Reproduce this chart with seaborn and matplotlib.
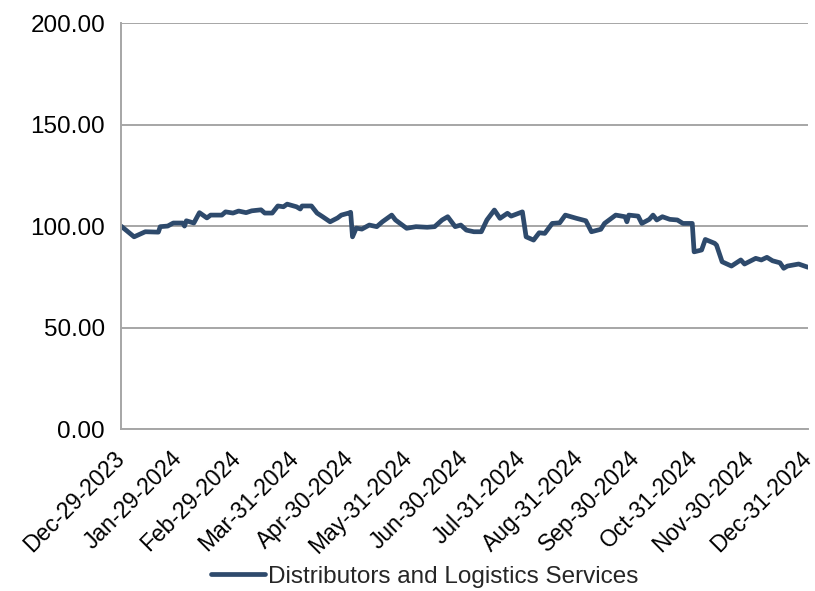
import matplotlib
matplotlib.use("Agg")
import matplotlib.pyplot as plt
import matplotlib.ticker as mticker
import pandas as pd
import seaborn as sns

series_name = "Distributors and Logistics Services"

dates = [
    "2023-12-29", "2024-01-05", "2024-01-11", "2024-01-18", "2024-01-19", "2024-01-23",
    "2024-01-26", "2024-01-31", "2024-02-01", "2024-02-02", "2024-02-06", "2024-02-09",
    "2024-02-13", "2024-02-15", "2024-02-21", "2024-02-23", "2024-02-27", "2024-03-01",
    "2024-03-05", "2024-03-08", "2024-03-13", "2024-03-15", "2024-03-19", "2024-03-22",
    "2024-03-25", "2024-03-27", "2024-04-01", "2024-04-03", "2024-04-04", "2024-04-09",
    "2024-04-12", "2024-04-15", "2024-04-19", "2024-04-23", "2024-04-25", "2024-04-29",
    "2024-04-30", "2024-05-01", "2024-05-03", "2024-05-06", "2024-05-10", "2024-05-14",
    "2024-05-17", "2024-05-22", "2024-05-24", "2024-05-30", "2024-06-04", "2024-06-10",
    "2024-06-14", "2024-06-18", "2024-06-21", "2024-06-25", "2024-06-28", "2024-07-01",
    "2024-07-05", "2024-07-09", "2024-07-12", "2024-07-16", "2024-07-19", "2024-07-23",
    "2024-07-25", "2024-07-31", "2024-08-02", "2024-08-06", "2024-08-09", "2024-08-12",
    "2024-08-16", "2024-08-20", "2024-08-23", "2024-08-29", "2024-09-03", "2024-09-06",
    "2024-09-11", "2024-09-13", "2024-09-19", "2024-09-24", "2024-09-25", "2024-09-26",
    "2024-10-01", "2024-10-03", "2024-10-07", "2024-10-09", "2024-10-11", "2024-10-14",
    "2024-10-18", "2024-10-22", "2024-10-25", "2024-10-30", "2024-10-31", "2024-11-04",
    "2024-11-06", "2024-11-11", "2024-11-12", "2024-11-15", "2024-11-20", "2024-11-25",
    "2024-11-27", "2024-12-03", "2024-12-06", "2024-12-09", "2024-12-12", "2024-12-16",
    "2024-12-18", "2024-12-20", "2024-12-26", "2024-12-31",
]

values = [
    100.0, 94.7, 97.2, 97.0, 99.7, 100.0,
    101.5, 101.5, 100.0, 102.6, 101.5, 106.6,
    104.0, 105.4, 105.4, 107.0, 106.4, 107.4,
    106.6, 107.5, 108.0, 106.4, 106.4, 109.9,
    109.5, 110.8, 109.5, 108.4, 109.9, 109.9,
    106.4, 104.6, 102.1, 104.0, 105.4, 106.4,
    106.8, 94.7, 99.0, 98.5, 100.5, 99.7,
    102.1, 105.4, 103.0, 98.9, 99.7, 99.4,
    99.7, 103.0, 104.6, 99.7, 100.5, 98.0,
    97.2, 97.2, 103.0, 107.9, 103.8, 106.3,
    104.9, 107.0, 94.7, 93.1, 96.7, 96.4,
    101.3, 101.6, 105.4, 103.8, 102.6, 97.2,
    98.4, 101.3, 105.4, 104.6, 102.1, 105.4,
    104.9, 101.3, 103.3, 105.4, 103.0, 104.6,
    103.3, 103.0, 101.3, 101.3, 87.3, 88.2,
    93.4, 91.5, 90.6, 82.4, 80.3, 83.3,
    81.3, 84.1, 83.3, 84.6, 82.9, 81.9,
    79.2, 80.3, 81.3, 79.7,
]

tick_dates = [
    "2023-12-29", "2024-01-29", "2024-02-29", "2024-03-31", "2024-04-30",
    "2024-05-31", "2024-06-30", "2024-07-31", "2024-08-31", "2024-09-30",
    "2024-10-31", "2024-11-30", "2024-12-31",
]
tick_labels = [
    "Dec-29-2023", "Jan-29-2024", "Feb-29-2024", "Mar-31-2024", "Apr-30-2024",
    "May-31-2024", "Jun-30-2024", "Jul-31-2024", "Aug-31-2024", "Sep-30-2024",
    "Oct-31-2024", "Nov-30-2024", "Dec-31-2024",
]
y_ticks = [0, 50, 100, 150, 200]

sns.set_theme(style="white")
plt.rcParams["font.family"] = ["Liberation Sans", "DejaVu Sans"]

df = pd.DataFrame({"date": pd.to_datetime(dates), "value": values, "series": series_name})

fig = plt.figure(figsize=(8.15, 5.91), dpi=100)
ax = fig.add_axes([0.1485, 0.274, 0.8429, 0.687])

line_color = "#2E4A6C"
grid_color = "#A6A6A6"

sns.lineplot(data=df, x="date", y="value", hue="series", palette=[line_color],
             linewidth=3.4, ax=ax, legend=False)

ax.set_xlim(pd.Timestamp(tick_dates[0]), pd.Timestamp(tick_dates[-1]))
ax.set_ylim(0, 200)
ax.set_yticks(y_ticks)
ax.yaxis.set_major_formatter(mticker.FormatStrFormatter("%.2f"))
ax.set_xticks(pd.to_datetime(tick_dates))
ax.set_xticklabels(tick_labels, rotation=45, ha="right", va="center",
                   rotation_mode="anchor", fontsize=16.5)
ax.set_xlabel("")
ax.set_ylabel("")

ax.yaxis.grid(True, color=grid_color, linewidth=1.4)
ax.xaxis.grid(False)
ax.set_axisbelow(True)
for side in ("top", "right"):
    ax.spines[side].set_visible(False)
for side in ("left", "bottom"):
    ax.spines[side].set_color(grid_color)
    ax.spines[side].set_linewidth(1.4)

ax.tick_params(axis="both", which="major", colors="black",
               length=4.5, width=1.4, direction="out")
ax.tick_params(axis="y", labelsize=17.5, color=grid_color, pad=7)
ax.tick_params(axis="x", color=grid_color, pad=14)

handle = plt.Line2D([], [], color=line_color, linewidth=3.4)
fig.legend([handle], [series_name], loc="center", bbox_to_anchor=(0.5215, 0.024),
           frameon=False, fontsize=17.5, handlelength=2.2, handletextpad=0.15,
           borderpad=0.0)

fig.savefig("out.png", dpi=100)
